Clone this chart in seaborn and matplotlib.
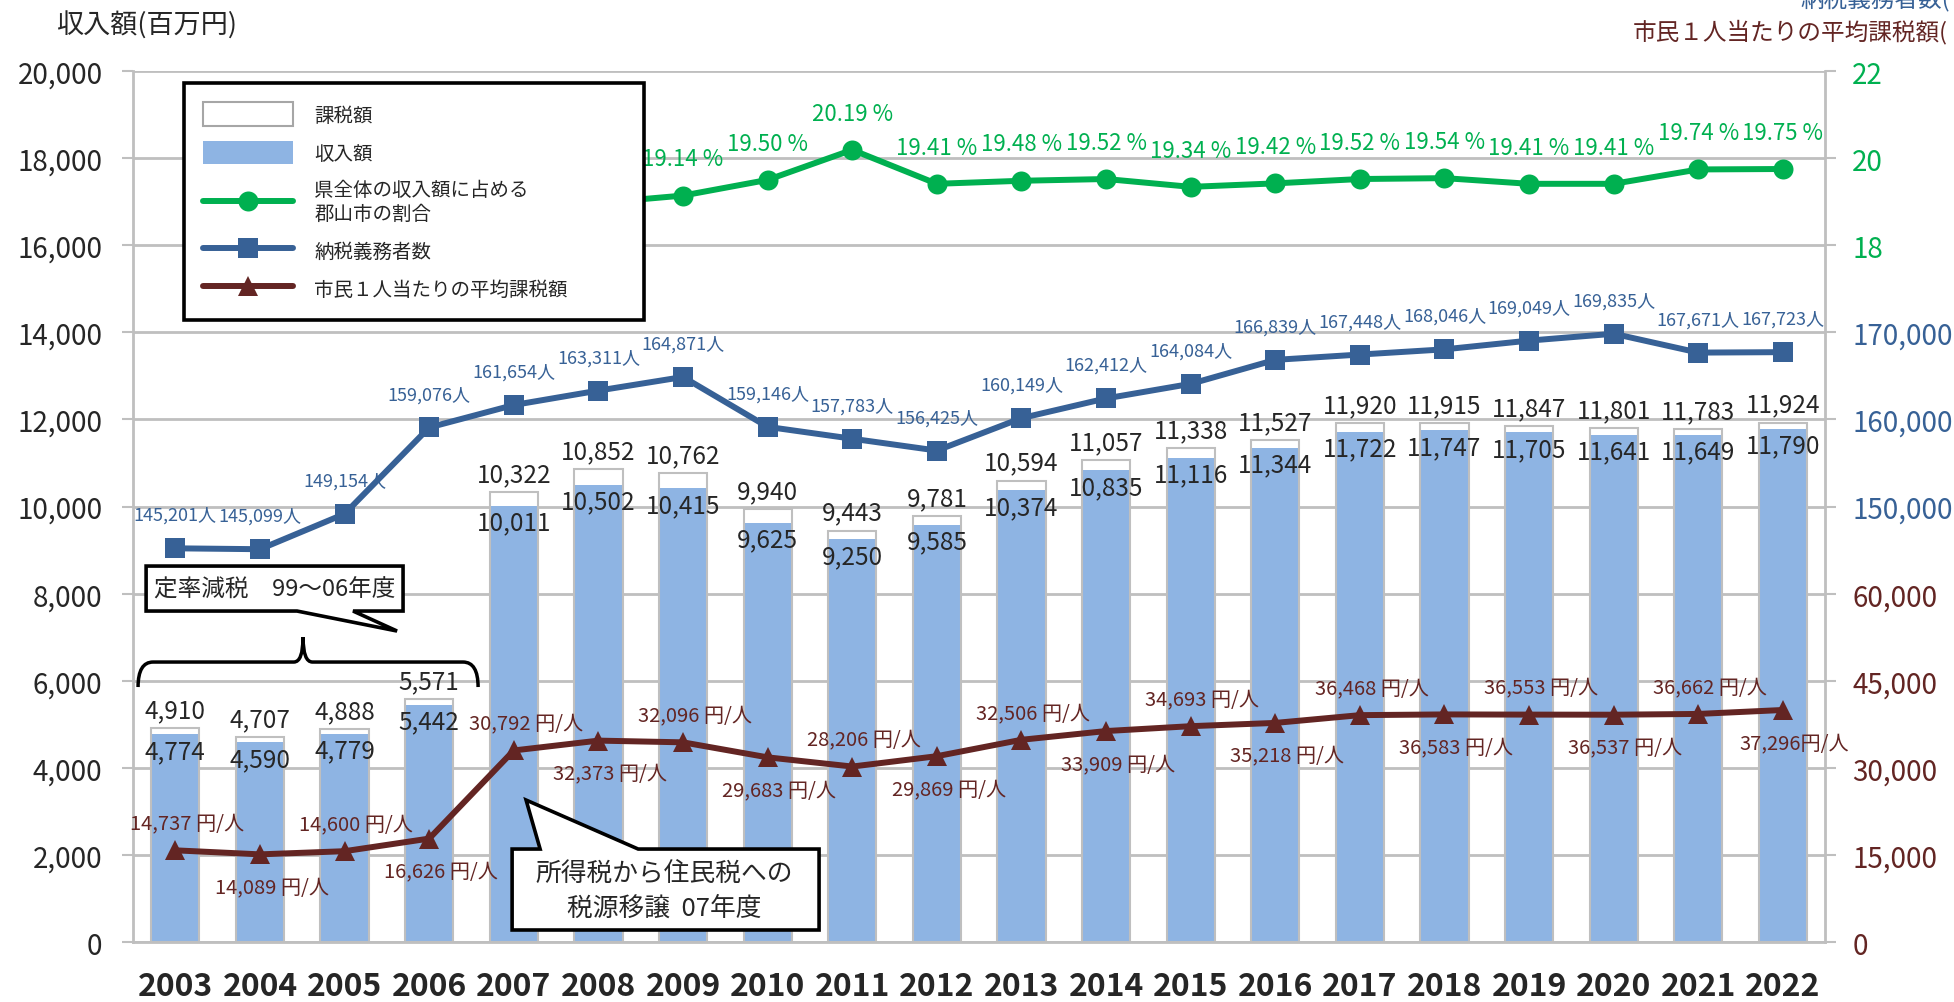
import numpy as np
import matplotlib
matplotlib.use("Agg")
import matplotlib.pyplot as plt
import seaborn as sns
from matplotlib.lines import Line2D
from matplotlib.patches import Patch, Polygon, PathPatch
from matplotlib.path import Path
from matplotlib.ticker import FixedLocator, FixedFormatter

# data
years = [str(y) for y in range(2003, 2023)]
kazei = [4910, 4707, 4888, 5571, 10322, 10852, 10762, 9940, 9443, 9781,
         10594, 11057, 11338, 11527, 11920, 11915, 11847, 11801, 11783, 11924]
shunyu = [4774, 4590, 4779, 5442, 10011, 10502, 10415, 9625, 9250, 9585,
          10374, 10835, 11116, 11344, 11722, 11747, 11705, 11641, 11649, 11790]
# share of prefecture total (%); the 2008 point sits behind the legend (estimated)
share_years = [str(y) for y in range(2008, 2023)]
share = [18.97, 19.14, 19.50, 20.19, 19.41, 19.48, 19.52, 19.34, 19.42,
         19.52, 19.54, 19.41, 19.41, 19.74, 19.75]
taxpayers = [145201, 145099, 149154, 159076, 161654, 163311, 164871, 159146,
             157783, 156425, 160149, 162412, 164084, 166839, 167448, 168046,
             169049, 169835, 167671, 167723]
avg_tax = [14737, 14089, 14600, 16626, 30792, 32373, 32096, 29683, 28206,
           29869, 32506, 33909, 34693, 35218, 36468, 36583, 36553, 36537,
           36662, 37296]

GREEN = "#00B050"
BLUE = "#376196"
RED = "#632523"
BAR_BLUE = "#8EB4E3"
GRID = "#BFBFBF"

sns.set_style("white")
plt.rcParams["font.family"] = ["Noto Sans CJK JP", "DejaVu Sans"]

fig = plt.figure(figsize=(19.54, 10.03), dpi=100)
ax = fig.add_axes([0.0681, 0.0598, 0.866, 0.8684])

# bars: taxable amount (white) with income (blue) in front, outline on top
sns.barplot(x=years, y=kazei, color="white", linewidth=0, width=0.57,
            saturation=1, ax=ax, zorder=2)
sns.barplot(x=years, y=shunyu, color=BAR_BLUE, linewidth=0, width=0.57,
            saturation=1, ax=ax, zorder=3)
sns.barplot(x=years, y=kazei, fill=False, color=GRID, linewidth=1.5,
            width=0.57, ax=ax, zorder=4)

for i, (k, s) in enumerate(zip(kazei, shunyu)):
    ax.annotate(f"{k:,}", (i, k), xytext=(0, 13), textcoords="offset points",
                ha="center", va="center", fontsize=17.5, zorder=6)
    ax.annotate(f"{s:,}", (i, s), xytext=(0, -12), textcoords="offset points",
                ha="center", va="center", fontsize=17.5, zorder=6)

ax.set_ylim(0, 20000)
ax.set_yticks(range(0, 20001, 2000))
ax.set_yticklabels([f"{v:,}" for v in range(0, 20001, 2000)])
ax.yaxis.grid(True, color=GRID, lw=2)
ax.set_axisbelow(True)
ax.tick_params(axis="y", length=8, width=1.5, color=GRID, labelsize=20, pad=14)
ax.tick_params(axis="x", which="major", length=0, labelsize=23, pad=20)
ax.set_xticks(np.arange(-0.5, 20, 1), minor=True)
ax.tick_params(axis="x", which="minor", length=8, width=1.5, color=GRID)
for lbl in ax.get_xticklabels():
    lbl.set_fontweight("bold")
for side in ["top", "right"]:
    ax.spines[side].set_visible(False)
for side in ["left", "bottom"]:
    ax.spines[side].set_color(GRID)
    ax.spines[side].set_linewidth(2)
ax.set_xlabel("")
ax.set_ylabel("")

# three right-hand scales stacked on one spine
axg = ax.twinx()
axb = ax.twinx()
axr = ax.twinx()

sns.lineplot(x=np.arange(5, 20), y=share, ax=axg, color=GREEN, lw=4.3,
             marker="o", markersize=14.4, markeredgewidth=0)
sns.lineplot(x=np.arange(20), y=taxpayers, ax=axb, color=BLUE, lw=4.3,
             marker="s", markersize=14.4, markeredgewidth=0)
sns.lineplot(x=np.arange(20), y=avg_tax, ax=axr, color=RED, lw=4.3,
             marker="^", markersize=15, markeredgewidth=0)

for i, v in enumerate(share):
    if i == 0:
        continue  # hidden behind the legend
    axg.annotate(f"{v:.2f} %", (i + 5, v), xytext=(0, 26.5),
                 textcoords="offset points", ha="center", va="center",
                 fontsize=16, color=GREEN)
for i, v in enumerate(taxpayers):
    axb.annotate(f"{v:,}人", (i, v), xytext=(0, 24), textcoords="offset points",
                 ha="center", va="center", fontsize=13, color=BLUE)
for i, v in enumerate(avg_tax):
    txt = f"{v:,}円/人" if i == len(avg_tax) - 1 else f"{v:,} 円/人"
    dy = 19 if i % 2 == 0 else -24
    axr.annotate(txt, (i, v), xytext=(8.5, dy), textcoords="offset points",
                 ha="center", va="center", fontsize=14.5, color=RED)

axg.set_ylim(2, 22)
axg.set_yticks([18, 20, 22])
axb.set_ylim(100000, 200000)
axb.set_yticks([150000, 160000, 170000])
axb.set_yticklabels(["150,000", "160,000", "170,000"])
# the reference's avg-tax scale tops out at 140,000 while its labels read 15,000 steps
axr.set_ylim(0, 140000)
axr.yaxis.set_major_locator(FixedLocator([0, 14000, 28000, 42000, 56000]))
axr.yaxis.set_major_formatter(FixedFormatter(["0", "15,000", "30,000", "45,000", "60,000"]))

for a, c in [(axg, GREEN), (axb, BLUE), (axr, RED)]:
    a.tick_params(axis="y", length=8, width=1.5, color=GRID, labelcolor=c,
                  labelsize=20, pad=11.5)
    for side in a.spines:
        a.spines[side].set_visible(False)
    a.set_ylabel("")
axr.spines["right"].set_visible(True)
axr.spines["right"].set_color(GRID)
axr.spines["right"].set_linewidth(2)

# callout: flat-rate tax cut
box1 = [(-0.346, 7600), (1.438, 7600), (2.62, 7141), (2.10, 7600),
        (2.691, 7600), (2.691, 8633), (-0.346, 8633)]
axr.add_patch(Polygon(box1, closed=True, facecolor="white", edgecolor="black",
                      lw=2.6, transform=ax.transData, zorder=10, clip_on=False))
axr.text(1.17, 8116, "定率減税　99～06年度", transform=ax.transData,
         ha="center", va="center", fontsize=17, zorder=11)

# brace over 2003-2006
brace = Path(
    [(-0.441, 5855), (-0.441, 6429), (-0.264, 6429), (1.40, 6429),
     (1.509, 6429), (1.509, 7003), (1.509, 6429), (1.62, 6429),
     (3.40, 6429), (3.578, 6429), (3.578, 5855)],
    [Path.MOVETO, Path.CURVE3, Path.CURVE3, Path.LINETO,
     Path.CURVE3, Path.CURVE3, Path.CURVE3, Path.CURVE3,
     Path.LINETO, Path.CURVE3, Path.CURVE3])
axr.add_patch(PathPatch(brace, facecolor="none", edgecolor="black", lw=2.5,
                        transform=ax.transData, zorder=10, clip_on=False))

# callout: tax source transfer
box2 = [(3.98, 2135), (4.311, 2135), (4.145, 3260), (5.47, 2135),
        (7.608, 2135), (7.608, 276), (3.98, 276)]
axr.add_patch(Polygon(box2, closed=True, facecolor="white", edgecolor="black",
                      lw=2.6, transform=ax.transData, zorder=10, clip_on=False))
axr.text(5.78, 1194, "所得税から住民税への\n税源移譲  07年度", transform=ax.transData,
         ha="center", va="center", fontsize=18.5, linespacing=1.45, zorder=11)

ax.set_xlim(-0.5, 19.5)
axg.set_ylim(2, 22)
axb.set_ylim(100000, 200000)
axr.set_ylim(0, 140000)

handles = [
    Patch(facecolor="white", edgecolor="#A6A6A6", lw=1.5),
    Patch(facecolor=BAR_BLUE, edgecolor="none"),
    Line2D([], [], color=GREEN, lw=4.3, marker="o", markersize=14.4, markeredgewidth=0),
    Line2D([], [], color=BLUE, lw=4.3, marker="s", markersize=14.4, markeredgewidth=0),
    Line2D([], [], color=RED, lw=4.3, marker="^", markersize=15, markeredgewidth=0),
]
labels = ["課税額", "収入額", "県全体の収入額に占める\n郡山市の割合", "納税義務者数",
          "市民１人当たりの平均課税額"]
leg = fig.legend(handles, labels, loc="upper left",
                 bbox_to_anchor=(184 / 1954, 1 - 84 / 1003, 460 / 1954, 0.0),
                 mode="expand", borderaxespad=0, frameon=True, fancybox=False,
                 edgecolor="black", framealpha=1, fontsize=14, handlelength=4.6,
                 handleheight=1.5, handletextpad=1.1, borderpad=1.0,
                 labelspacing=0.75)
leg.get_frame().set_linewidth(2.6)

fig.text(56 / 1954, 1 - 26 / 1003, "収入額(百万円)", ha="left", va="center",
         fontsize=19.5)
fig.text(1633 / 1954, 1 - 32 / 1003, "市民１人当たりの平均課税額(", ha="left",
         va="center", fontsize=17, color=RED)
fig.text(1800 / 1954, 1 + 1 / 1003, "納税義務者数(", ha="left", va="center",
         fontsize=17, color=BLUE)

fig.savefig("out.png", dpi=100)
